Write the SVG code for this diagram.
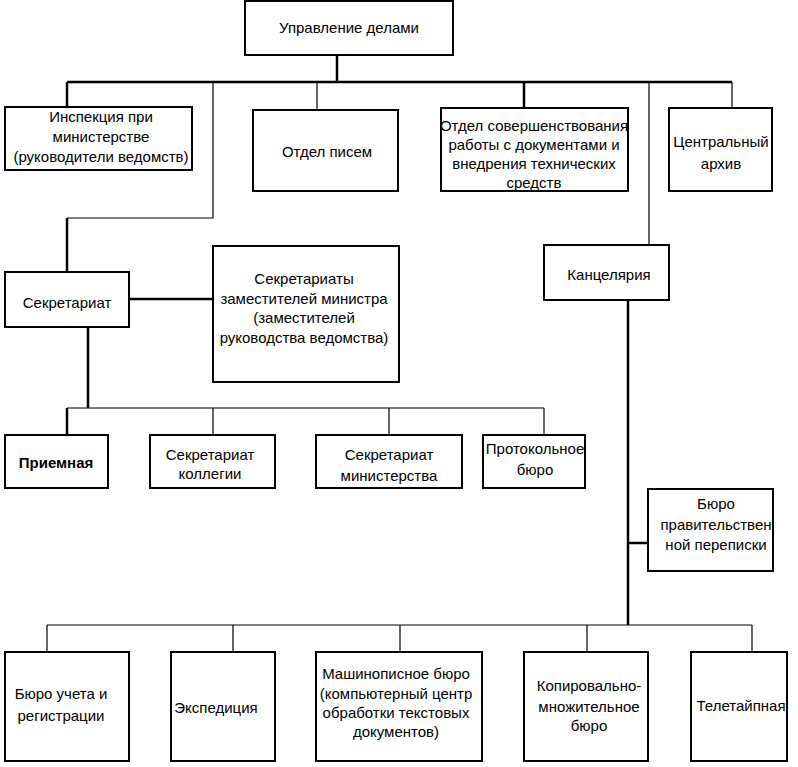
<svg xmlns="http://www.w3.org/2000/svg" width="798" height="767" viewBox="0 0 798 767">
<style>
.box{fill:#fff;stroke:#000;stroke-width:2}
.t{font-family:"Liberation Sans",Arial,sans-serif;font-size:15px;fill:#000;text-anchor:middle}
.thick{fill:none;stroke:#000;stroke-width:2.5}
.thin{fill:none;stroke:#000;stroke-width:1.2}
</style>
<rect width="798" height="767" fill="#fff"/>
<g id="connectors">
<path class="thick" d="M337 55V82M67 82H732M67 82V107M524 82V108M67 218V272M129 299H213M88 327V408M67 408V435M628 300V625M628 543H648"/>
<path class="thin" d="M213 82V218H67M317 82V110M649 82V245M732 82V108M67 408H544M213 408V435M389 408V435M544 408V435M47 625H752M47 625V652M233 625V652M400 625V652M587 625V652M752 625V652"/>
</g>
<g id="n-top"><rect class="box" x="245" y="1" width="208" height="54"/><text class="t" x="349" y="33">Управление делами</text></g>
<g id="n-insp"><rect class="box" x="5" y="107" width="187" height="63"/><text class="t" x="101" y="122">Инспекция при</text><text class="t" x="101" y="142">министерстве</text><text class="t" x="101" y="162">(руководители ведомств)</text></g>
<g id="n-letters"><rect class="box" x="253" y="110" width="145" height="81"/><text class="t" x="327" y="157">Отдел писем</text></g>
<g id="n-improve"><rect class="box" x="441" y="108" width="187" height="83"/><text class="t" x="534" y="131">Отдел совершенствования</text><text class="t" x="534" y="150">работы с документами и</text><text class="t" x="534" y="169">внедрения технических</text><text class="t" x="534" y="188">средств</text></g>
<g id="n-archive"><rect class="box" x="669" y="108" width="103" height="83"/><text class="t" x="721" y="147">Центральный</text><text class="t" x="721" y="169">архив</text></g>
<g id="n-secr"><rect class="box" x="5" y="272" width="124" height="55"/><text class="t" x="67" y="308">Секретариат</text></g>
<g id="n-depsecr"><rect class="box" x="213" y="246" width="186" height="136"/><text class="t" x="304" y="284">Секретариаты</text><text class="t" x="304" y="304">заместителей министра</text><text class="t" x="304" y="323">(заместителей</text><text class="t" x="304" y="343">руководства ведомства)</text></g>
<g id="n-kanc"><rect class="box" x="544" y="245" width="125" height="55"/><text class="t" x="609" y="280">Канцелярия</text></g>
<g id="n-priem"><rect class="box" x="5" y="435" width="103" height="53"/><text class="t" x="56" y="468" font-weight="bold">Приемная</text></g>
<g id="n-kolleg"><rect class="box" x="150" y="435" width="125" height="53"/><text class="t" x="210" y="460">Секретариат</text><text class="t" x="210" y="479">коллегии</text></g>
<g id="n-minist"><rect class="box" x="316" y="435" width="146" height="53"/><text class="t" x="389" y="460">Секретариат</text><text class="t" x="389" y="481">министерства</text></g>
<g id="n-protok"><rect class="box" x="483" y="435" width="102" height="53"/><text class="t" x="535" y="454">Протокольное</text><text class="t" x="535" y="475">бюро</text></g>
<g id="n-burogov"><rect class="box" x="648" y="489" width="125" height="82"/><text class="t" x="716" y="509">Бюро</text><text class="t" x="716" y="530">правительствен</text><text class="t" x="716" y="550">ной переписки</text></g>
<g id="n-uchet"><rect class="box" x="5" y="652" width="124" height="109"/><text class="t" x="61" y="699">Бюро учета и</text><text class="t" x="61" y="721">регистрации</text></g>
<g id="n-exped"><rect class="box" x="171" y="652" width="104" height="109"/><text class="t" x="216" y="713">Экспедиция</text></g>
<g id="n-mash"><rect class="box" x="316" y="652" width="166" height="109"/><text class="t" x="396" y="679">Машинописное бюро</text><text class="t" x="396" y="699">(компьютерный центр</text><text class="t" x="396" y="718">обработки текстовых</text><text class="t" x="396" y="737">документов)</text></g>
<g id="n-kopir"><rect class="box" x="524" y="652" width="124" height="109"/><text class="t" x="589" y="691">Копировально-</text><text class="t" x="589" y="712">множительное</text><text class="t" x="589" y="731">бюро</text></g>
<g id="n-telet"><rect class="box" x="691" y="652" width="96" height="109"/><text class="t" x="741" y="711">Телетайпная</text></g>
</svg>
